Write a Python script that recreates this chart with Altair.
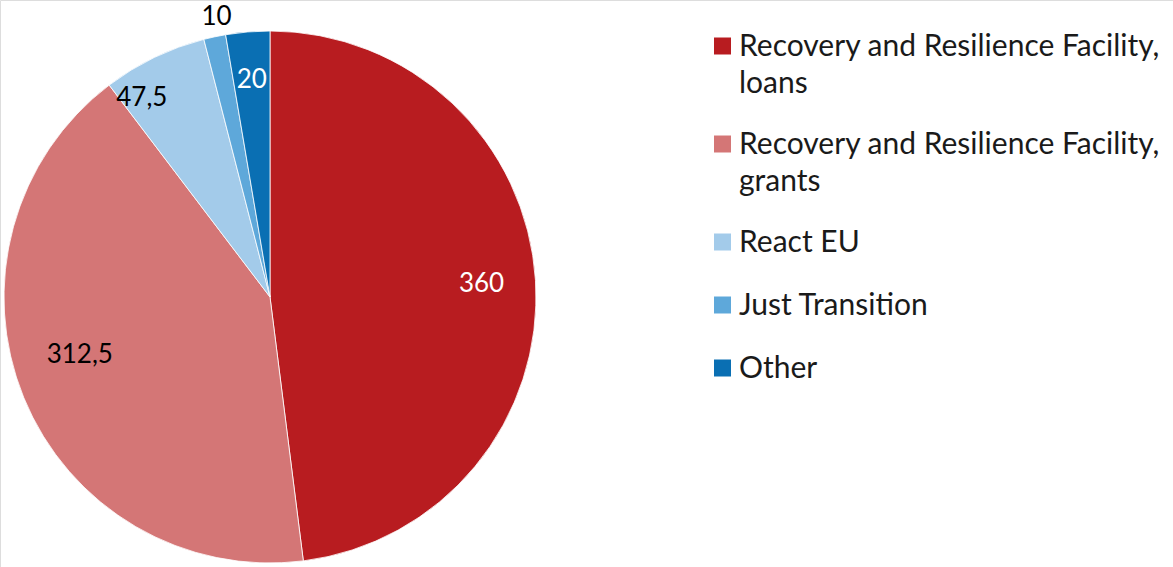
import altair as alt
import pandas as pd

categories = [
    "Recovery and Resilience Facility, loans",
    "Recovery and Resilience Facility, grants",
    "React EU",
    "Just Transition",
    "Other",
]
legend_labels = [
    "Recovery and Resilience Facility,|loans",
    "Recovery and Resilience Facility,|grants",
    "React EU",
    "Just Transition",
    "Other",
]
values = [360, 312.5, 47.5, 10, 20]
value_labels = ["360", "312,5", "47,5", "10", "20"]
colors = ["#B81C20", "#D47676", "#A3CBEA", "#5EA8DA", "#0A6FB3"]
label_colors = ["white", "black", "black", "black", "white"]

df = pd.DataFrame({
    "category": categories,
    "value": values,
    "label": value_labels,
    "order": list(range(len(categories))),
    "lcolor": label_colors,
})
legend_df = pd.DataFrame({"category": categories, "text": legend_labels})

CX, CY, R = 270, 297, 266
FONT = "Lato"
LEG_TOP, LINE_H, ENTRY_GAP = 46, 35, 28

cscale = alt.Scale(domain=categories, range=colors)

base = alt.Chart(df).encode(
    theta=alt.Theta("value:Q", stack=True),
    order=alt.Order("order:Q"),
)

pie = base.mark_arc(radius=R, stroke="white", strokeWidth=0.8).encode(
    color=alt.Color("category:N", scale=cscale, legend=None),
    x=alt.value(CX),
    y=alt.value(CY),
)

# per-slice value labels: (category, radius, dx, dy)
label_specs = [
    ("Recovery and Resilience Facility, loans", 212, 0, 0),
    ("Recovery and Resilience Facility, grants", 199, -6, -17),
    ("React EU", 237, -25, 14),
    ("Just Transition", 286, 6, 0),
    ("Other", 218, 0, 0),
]
label_layers = []
for cat, rad, dx, dy in label_specs:
    label_layers.append(
        base.mark_text(radius=rad, font=FONT, fontSize=26, dx=dx, dy=dy).encode(
            text=alt.condition(alt.datum.category == cat, alt.Text("label:N"), alt.value("")),
            color=alt.Color("lcolor:N", scale=None),
            x=alt.value(CX),
            y=alt.value(CY),
        )
    )

leg_base = alt.Chart(legend_df).transform_calculate(
    lines="length(split(datum.text, '|'))"
).transform_window(
    idx="row_number()"
).transform_window(
    prev="sum(lines)", frame=[None, -1]
).transform_calculate(
    ypix=f"{LEG_TOP} + {LINE_H} * (datum.prev || 0) + {ENTRY_GAP} * (datum.idx - 1)"
)

ypos = alt.Y("ypix:Q", scale=None, axis=None)

leg_sym = leg_base.mark_square(size=289, opacity=1).encode(
    x=alt.value(722.5),
    y=ypos,
    color=alt.Color("category:N", scale=cscale, legend=None),
)
leg_txt = leg_base.mark_text(
    font=FONT, fontSize=30, lineBreak="|", lineHeight=37,
    align="left", baseline="alphabetic", dy=10, color="#1a1a1a",
).encode(
    x=alt.value(739),
    y=ypos,
    text="text:N",
)

chart = alt.layer(pie, *label_layers, leg_sym, leg_txt).properties(
    width=1173,
    height=567,
    autosize=alt.AutoSizeParams(type="none"),
    padding=0,
).configure_view(stroke=None).configure(background="white")

chart.save("out.html", embed_options={"renderer": "svg", "actions": False})
